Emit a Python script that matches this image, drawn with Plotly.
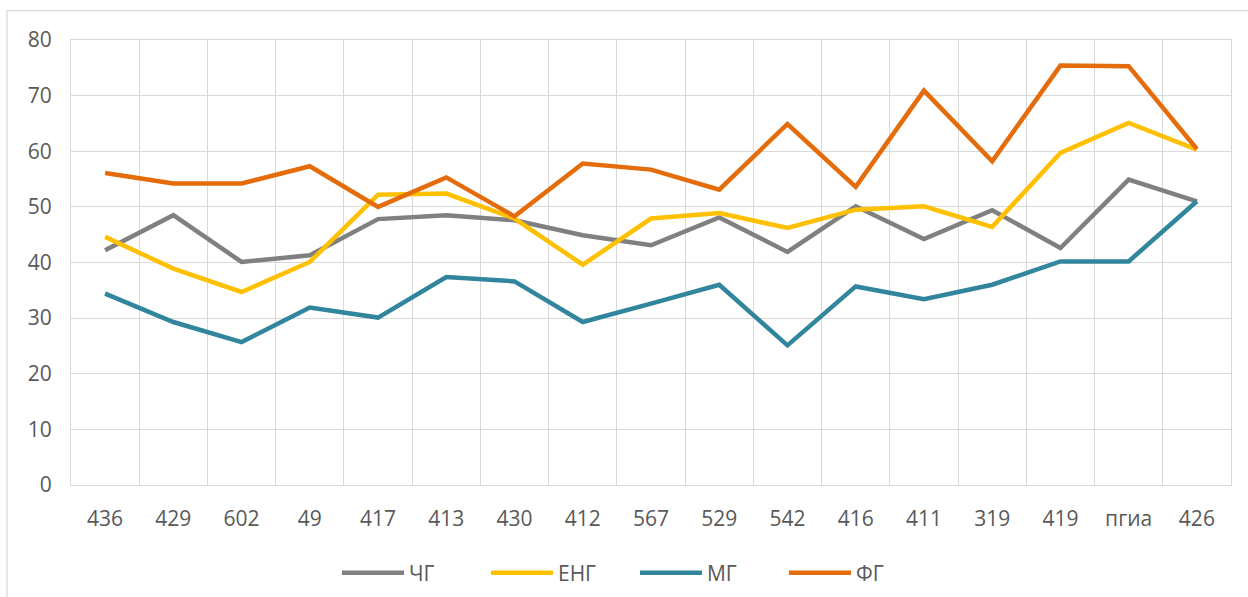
import plotly.graph_objects as go

categories = ["436", "429", "602", "49", "417", "413", "430", "412", "567",
              "529", "542", "416", "411", "319", "419", "пгиа", "426"]

chg = [42.2, 48.5, 40.1, 41.3, 47.8, 48.5, 47.6, 44.9, 43.1,
       48.1, 41.9, 50.1, 44.2, 49.4, 42.6, 54.9, 51.0]
eng = [44.6, 38.9, 34.7, 40.1, 52.2, 52.4, 47.9, 39.6, 47.9,
       48.9, 46.2, 49.5, 50.1, 46.4, 59.7, 65.1, 60.3]
mg = [34.4, 29.3, 25.7, 31.9, 30.1, 37.4, 36.6, 29.3, 32.6,
      36.0, 25.1, 35.7, 33.4, 36.0, 40.2, 40.2, 51.0]
fg = [56.1, 54.2, 54.2, 57.3, 50.0, 55.3, 48.3, 57.8, 56.7,
      53.1, 64.9, 53.6, 70.9, 58.2, 75.4, 75.3, 60.4]

series = [("ЧГ", chg, "#808080"), ("ЕНГ", eng, "#FFC000"),
          ("МГ", mg, "#31859C"), ("ФГ", fg, "#E46C0A")]

FONT = "Open Sans"
TXT = "#595959"
GRID = "#D9D9D9"
FS = 21

fig = go.Figure()
for name, vals, col in series:
    fig.add_trace(go.Scatter(x=categories, y=vals, name=name, mode="lines",
                             line=dict(color=col, width=4.5)))

fig.update_layout(
    width=1248, height=597,
    margin=dict(l=71, r=17, t=40, b=112, autoexpand=False),
    paper_bgcolor="white", plot_bgcolor="white",
    font=dict(family=FONT, size=FS, color=TXT),
    showlegend=True,
    legend=dict(orientation="h", xref="container", yref="container",
                x=0.270, xanchor="left", y=0.040, yanchor="middle",
                font=dict(family=FONT, size=FS, color=TXT),
                entrywidth=72, entrywidthmode="pixels", itemwidth=62),
)
fig.update_xaxes(type="category", tickson="boundaries", showgrid=True,
                 gridcolor=GRID, gridwidth=1.3, ticks="", showline=True,
                 linecolor=GRID, linewidth=1.3, mirror=True,
                 ticklabelstandoff=15,
                 tickfont=dict(family=FONT, size=FS, color=TXT),
                 range=[-0.5, len(categories) - 0.5])
fig.update_yaxes(range=[0, 80], dtick=10, showgrid=True, gridcolor=GRID,
                 gridwidth=1.3, showline=True, linecolor=GRID, linewidth=1.3,
                 mirror=True, ticks="", zeroline=False, ticklabelstandoff=14,
                 tickfont=dict(family=FONT, size=FS, color=TXT))

fig.add_shape(type="rect", xref="paper", yref="paper",
              x0=-0.0552, x1=1.05, y0=-0.4, y1=1.0662,
              line=dict(color=GRID, width=1.3), fillcolor="rgba(0,0,0,0)",
              layer="below")

fig.write_html("out.html", config={"displayModeBar": False},
               post_script="document.body.style.margin='0';")
